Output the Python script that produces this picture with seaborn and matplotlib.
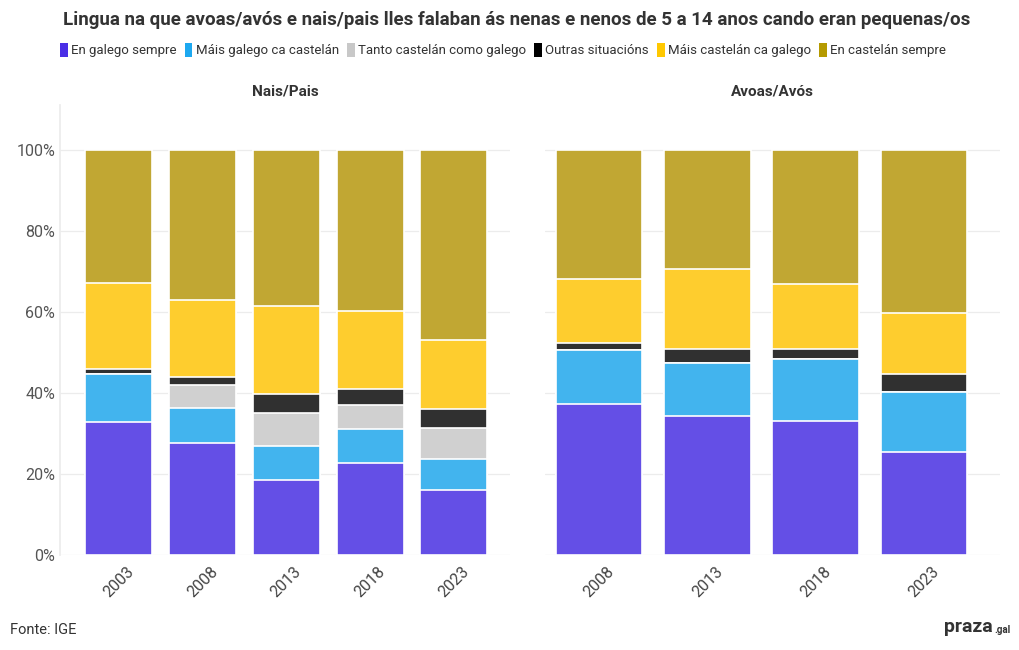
import matplotlib
matplotlib.use("Agg")
import matplotlib.pyplot as plt
import seaborn as sns
import pandas as pd
from matplotlib.patches import Patch

# ---- data ----
categories = ["En galego sempre", "Máis galego ca castelán", "Tanto castelán como galego",
              "Outras situacións", "Máis castelán ca galego", "En castelán sempre"]

years_pais = ["2003", "2008", "2013", "2018", "2023"]
pais_galego = [32.9, 27.7, 18.4, 22.8, 16.0]
pais_mais_galego = [11.8, 8.7, 8.6, 8.2, 7.8]
pais_tanto = [0.0, 5.6, 8.1, 6.0, 7.5]
pais_outras = [1.3, 2.0, 4.7, 4.1, 4.7]
pais_mais_castelan = [21.2, 19.0, 21.8, 19.1, 17.1]
pais_castelan = [32.8, 37.0, 38.4, 39.8, 46.9]

years_avos = ["2008", "2013", "2018", "2023"]
avos_galego = [37.3, 34.4, 33.2, 25.5]
avos_mais_galego = [13.3, 12.9, 15.2, 14.8]
avos_tanto = [0.0, 0.0, 0.0, 0.0]
avos_outras = [1.8, 3.6, 2.5, 4.3]
avos_mais_castelan = [15.7, 19.7, 15.9, 15.2]
avos_castelan = [31.9, 29.4, 33.2, 40.2]

bar_colors = ["#644fe6", "#42b4ee", "#d0d0d0", "#303030", "#fecd2e", "#c1a733"]
legend_colors = ["#4a2ee6", "#1da8f0", "#c8c8c8", "#000000", "#ffc800", "#b59a00"]

pais_series = [pais_galego, pais_mais_galego, pais_tanto, pais_outras, pais_mais_castelan, pais_castelan]
avos_series = [avos_galego, avos_mais_galego, avos_tanto, avos_outras, avos_mais_castelan, avos_castelan]

sns.set_theme(style="white")
plt.rcParams['font.family'] = ['Roboto', 'DejaVu Sans']

fig = plt.figure(figsize=(10.2, 6.5), dpi=100)
ax1 = fig.add_axes([60/1020, 1-555/650, 450/1020, 445.5/650])
ax2 = fig.add_axes([545/1020, 1-555/650, 455/1020, 445.5/650])


def draw(ax, years, series):
    # cumulative tops, drawn back to front
    cum = []
    run = [0.0]*len(years)
    for s in series:
        run = [a + b for a, b in zip(run, s)]
        cum.append(run)
    for i in range(len(series)-1, -1, -1):
        df = pd.DataFrame({"year": years, "v": cum[i]})
        sns.barplot(data=df, x="year", y="v", ax=ax, color=bar_colors[i],
                    saturation=1, width=0.8, edgecolor="white", linewidth=1.2)
    ax.set_ylim(0, 110)
    ax.set_yticks([0, 20, 40, 60, 80, 100])
    ax.yaxis.grid(True, color="#ececec", linewidth=0.9)
    ax.set_axisbelow(True)
    ax.set_xlabel("")
    ax.set_ylabel("")
    for sp in ax.spines.values():
        sp.set_visible(False)
    ax.tick_params(axis="x", rotation=45, labelsize=11.5, colors="#444444", length=3, color="#dddddd")
    for lab in ax.get_xticklabels():
        lab.set_ha("center")
    ax.tick_params(axis="y", labelsize=11.5, colors="#555555", length=0)


draw(ax1, years_pais, pais_series)
draw(ax2, years_avos, avos_series)

ax1.set_xlim(-0.7, 4.67)
ax2.set_xlim(-0.5, 3.7)
ax1.set_yticklabels([f"{v}%" for v in [0, 20, 40, 60, 80, 100]])
ax2.set_yticklabels([])
ax1.spines["left"].set_visible(True)
ax1.spines["left"].set_color("#ececec")
ax1.spines["left"].set_bounds(0, 111)

fig.text((60+510)/2/1020, 1-92/650, "Nais/Pais", ha="center", va="center",
         fontsize=11, fontweight="bold", color="#333333")
fig.text((545+1000)/2/1020, 1-92/650, "Avoas/Avós", ha="center", va="center",
         fontsize=11, fontweight="bold", color="#333333")

fig.text(517/1020, 1-20/650,
         "Lingua na que avoas/avós e nais/pais lles falaban ás nenas e nenos de 5 a 14 anos cando eran pequenas/os",
         ha="center", va="center", fontsize=13.5, fontweight="bold", color="#333333")

handles = [Patch(facecolor=c, edgecolor="none") for c in legend_colors]
fig.legend(handles, categories, loc="center", bbox_to_anchor=(503/1020, 1-50/650), ncol=6,
           frameon=False, fontsize=9.5, handlelength=0.6, handleheight=1.3, handletextpad=0.25,
           columnspacing=0.6, labelcolor="#333333")

fig.text(10/1020, 1-630/650, "Fonte: IGE", ha="left", va="center", fontsize=10.5, color="#333333")
fig.text(993/1020, 1-627/650, "praza", ha="right", va="center", fontsize=14, fontweight="bold", color="#333333")
fig.text(994/1020, 1-630/650, ".gal", ha="left", va="center", fontsize=7, fontweight="bold", color="#333333")

fig.savefig("out.png", dpi=100, facecolor="white")
